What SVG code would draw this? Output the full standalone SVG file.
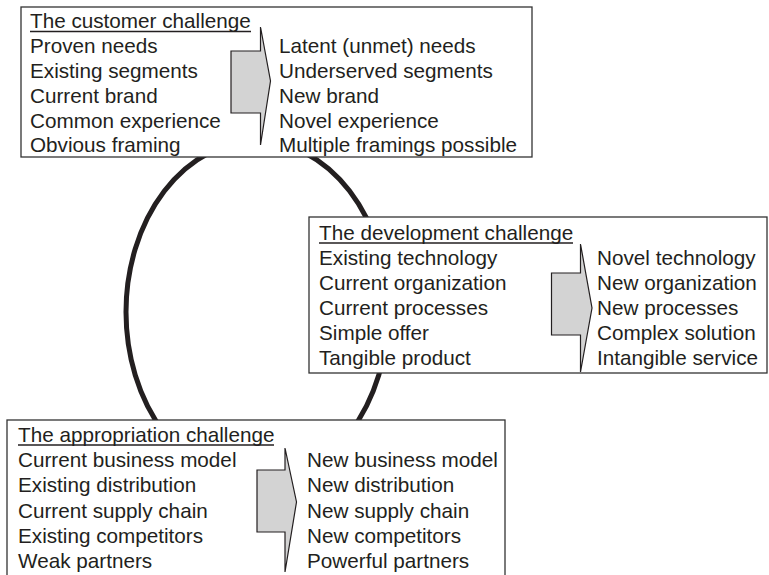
<svg xmlns="http://www.w3.org/2000/svg" width="769" height="575" viewBox="0 0 769 575">
<style>
.box{fill:#fff;stroke:#333;stroke-width:1.3}
.t{font-family:"Liberation Sans",Arial,sans-serif;font-size:20.7px;fill:#231f20}
.u{stroke:#231f20;stroke-width:1.4}
.arr{fill:#d3d3d3;stroke:#231f20;stroke-width:1.2;stroke-linejoin:miter}
</style>
<rect width="769" height="575" fill="#fff"/>
<g id="connectors">
<ellipse cx="257" cy="312" rx="131" ry="171" fill="none" stroke="#231f20" stroke-width="5"/>
</g>
<g id="customer">
<rect class="box" x="21" y="7" width="511" height="150"/>
<text class="t" x="30" y="28">The customer challenge</text>
<line class="u" x1="30" y1="31.5" x2="251" y2="31.5"/>
<polygon class="arr" points="231,51 260.5,51 260.5,27 270.5,81 260.5,145 260.5,113 231,113"/>
<text class="t" x="30" y="53">Proven needs</text>
<text class="t" x="30" y="78">Existing segments</text>
<text class="t" x="30" y="103">Current brand</text>
<text class="t" x="30" y="127.5">Common experience</text>
<text class="t" x="30" y="152">Obvious framing</text>
<text class="t" x="279" y="53">Latent (unmet) needs</text>
<text class="t" x="279" y="78">Underserved segments</text>
<text class="t" x="279" y="103">New brand</text>
<text class="t" x="279" y="127.5">Novel experience</text>
<text class="t" x="279" y="152">Multiple framings possible</text>
</g>
<g id="development">
<rect class="box" x="309" y="217" width="458" height="156"/>
<text class="t" x="319" y="240">The development challenge</text>
<line class="u" x1="319" y1="243" x2="573" y2="243"/>
<polygon class="arr" points="551.5,273 580.5,273 580.5,244 592,308 580.5,372 580.5,335 551.5,335"/>
<text class="t" x="319" y="265">Existing technology</text>
<text class="t" x="319" y="290">Current organization</text>
<text class="t" x="319" y="315">Current processes</text>
<text class="t" x="319" y="340">Simple offer</text>
<text class="t" x="319" y="365">Tangible product</text>
<text class="t" x="597" y="265">Novel technology</text>
<text class="t" x="597" y="290">New organization</text>
<text class="t" x="597" y="315">New processes</text>
<text class="t" x="597" y="340">Complex solution</text>
<text class="t" x="597" y="365">Intangible service</text>
</g>
<g id="appropriation">
<rect class="box" x="7" y="420" width="498" height="170"/>
<text class="t" x="18" y="442">The appropriation challenge</text>
<line class="u" x1="18" y1="445" x2="274" y2="445"/>
<polygon class="arr" points="257,470 285,470 285,448 296.5,502 285,572 285,532 257,532"/>
<text class="t" x="18" y="467">Current business model</text>
<text class="t" x="18" y="492">Existing distribution</text>
<text class="t" x="18" y="517.5">Current supply chain</text>
<text class="t" x="18" y="543">Existing competitors</text>
<text class="t" x="18" y="568">Weak partners</text>
<text class="t" x="307" y="467">New business model</text>
<text class="t" x="307" y="492">New distribution</text>
<text class="t" x="307" y="517.5">New supply chain</text>
<text class="t" x="307" y="543">New competitors</text>
<text class="t" x="307" y="568">Powerful partners</text>
</g>
</svg>
